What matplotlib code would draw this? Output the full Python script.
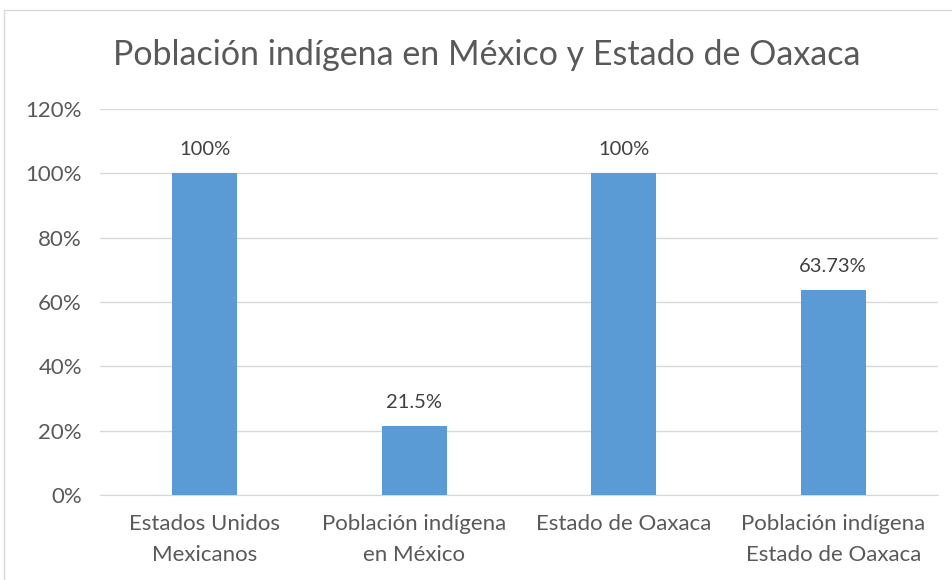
import matplotlib
matplotlib.use("Agg")
import matplotlib.pyplot as plt
from matplotlib.patches import Rectangle
from matplotlib.ticker import FuncFormatter

categorias = ["Estados Unidos\nMexicanos", "Población indígena\nen México",
              "Estado de Oaxaca", "Población indígena\nEstado de Oaxaca"]
valores = [100, 21.5, 100, 63.73]
etiquetas = ["100%", "21.5%", "100%", "63.73%"]
yticks = [0, 20, 40, 60, 80, 100, 120]

AZUL = "#5B9BD5"
GRIS_TXT = "#595959"
GRIS_LINEA = "#D9D9D9"

plt.rcParams["font.family"] = ["Lato", "DejaVu Sans"]

fig = plt.figure(figsize=(9.53, 5.8), dpi=100)
ax = fig.add_axes([100 / 953, 85 / 580, 838 / 953, 386 / 580])

x = range(len(categorias))
ax.bar(x, valores, width=0.31, color=AZUL, zorder=3)

for xi, v, t in zip(x, valores, etiquetas):
    ax.annotate(t, (xi, v), xytext=(0, 11), textcoords="offset points",
                ha="center", va="bottom", fontsize=14.5, color="#404040")

ax.set_xlim(-0.5, len(categorias) - 0.5)
ax.set_ylim(0, 120)
ax.set_yticks(yticks)
ax.yaxis.set_major_formatter(FuncFormatter(lambda v, p: f"{v:.0f}%"))
ax.set_xticks(list(x))
ax.set_xticklabels(categorias, linespacing=1.65)
ax.grid(axis="y", color=GRIS_LINEA, linewidth=1, zorder=0)
for s in ["top", "right", "left"]:
    ax.spines[s].set_visible(False)
ax.spines["bottom"].set_color(GRIS_LINEA)
ax.tick_params(axis="both", length=0, labelsize=16, colors=GRIS_TXT)
ax.tick_params(axis="x", pad=14)
ax.tick_params(axis="y", pad=13)

fig.text(487 / 953, 1 - 55 / 580, "Población indígena en México y Estado de Oaxaca",
         ha="center", va="center", fontsize=24.5, color=GRIS_TXT)

fig.patches.append(Rectangle((4 / 953, -0.1), 2, 1.1 - 10 / 580, transform=fig.transFigure,
                             fill=False, edgecolor=GRIS_LINEA, linewidth=1))

fig.savefig("out.png", dpi=100)
